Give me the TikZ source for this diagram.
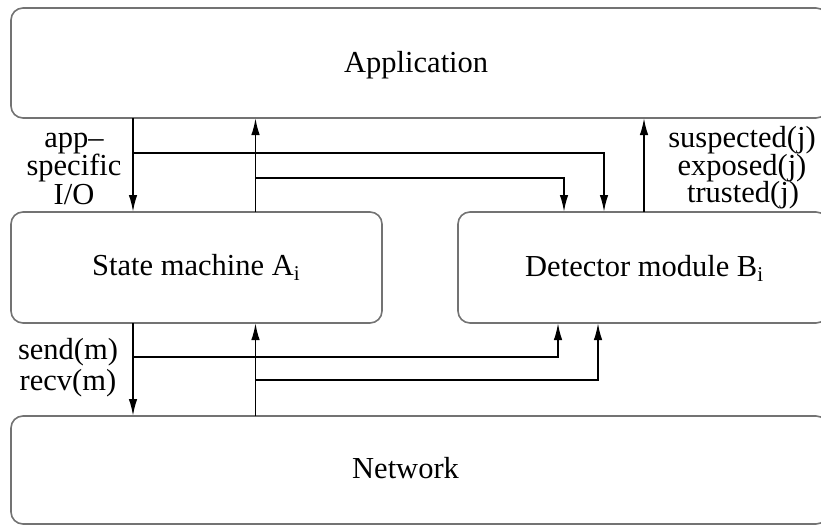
\documentclass[tikz,border=0pt]{standalone}
\usepackage{fontspec}
\setmainfont{Liberation Serif}
\usetikzlibrary{arrows.meta}

% lowered index letter, as in A_i and B_i
\newcommand{\lowidx}[1]{\raisebox{-5pt}{\fontsize{21}{21}\selectfont #1}}

\begin{document}
\begin{tikzpicture}[x=1pt, y=-1pt,
  box/.style={draw=black!55, line width=1.6pt, rounded corners=12pt,
              anchor=north west, outer sep=0pt, inner sep=0pt},
  flow/.style={draw=black, line width=1.8pt},
  arr/.style={flow, -{Latex[length=17pt,width=8.5pt]}},
  txt/.style={font=\fontsize{30.5}{30.5}\selectfont, inner sep=0pt},
  title/.style={txt, anchor=base west},
  lbl/.style={txt, anchor=base},
]
\useasboundingbox (0,0) rectangle (821,525);
\clip (0,0) rectangle (821,525);

% layer boxes
\node[box, minimum width=817pt, minimum height=110pt] (app) at (11,8) {};
\node[box, minimum width=371pt, minimum height=111pt] (sm)  at (11,212) {};
\node[box, minimum width=370pt, minimum height=111pt] (det) at (458,212) {};
\node[box, minimum width=817pt, minimum height=108pt] (net) at (11,416) {};

% box titles
\node[title] (tapp) at (344,72)  {Application};
\node[title] (tsm)  at (92,275)  {State machine A\lowidx{i}};
\node[title] (tdet) at (525,276) {Detector module B\lowidx{i}};
\node[title] (tnet) at (352,478) {Network};

% signal labels
\node[lbl] (io1) at (74,147)   {app–};
\node[lbl] (io2) at (74,175.5) {specific};
\node[lbl] (io3) at (74,204)   {I/O};
\node[lbl] (ev1) at (742,147.5) {suspected(j)};
\node[lbl] (ev2) at (742,175)  {exposed(j)};
\node[lbl] (ev3) at (743,202)  {trusted(j)};
\node[lbl] (snd) at (68,359)   {send(m)};
\node[lbl] (rcv) at (68,390)   {recv(m)};

% wire columns and rows
\coordinate (c1) at (133,0);
\coordinate (c2) at (255.5,0);
\coordinate (c3) at (564,0);
\coordinate (c4) at (604,0);
\coordinate (c5) at (644,0);
\coordinate (c6) at (558,0);
\coordinate (c7) at (598,0);
\coordinate (r1) at (0,153);
\coordinate (r2) at (0,178);
\coordinate (r3) at (0,357);
\coordinate (r4) at (0,380);

% application <-> state machine / detector
\draw[arr] (app.south -| c1) -- (sm.north -| c1);
\draw[arr] (c1 |- r1) -| (det.north -| c4);
\draw[arr] (sm.north -| c2) -- (app.south -| c2);
\draw[arr] (c2 |- r2) -| (det.north -| c3);
\draw[arr] (det.north -| c5) -- (app.south -| c5);

% state machine <-> network / detector
\draw[arr] (sm.south -| c1) -- (net.north -| c1);
\draw[arr] (c1 |- r3) -| (det.south -| c6);
\draw[arr] (net.north -| c2) -- (sm.south -| c2);
\draw[arr] (c2 |- r4) -| (det.south -| c7);
\end{tikzpicture}
\end{document}
